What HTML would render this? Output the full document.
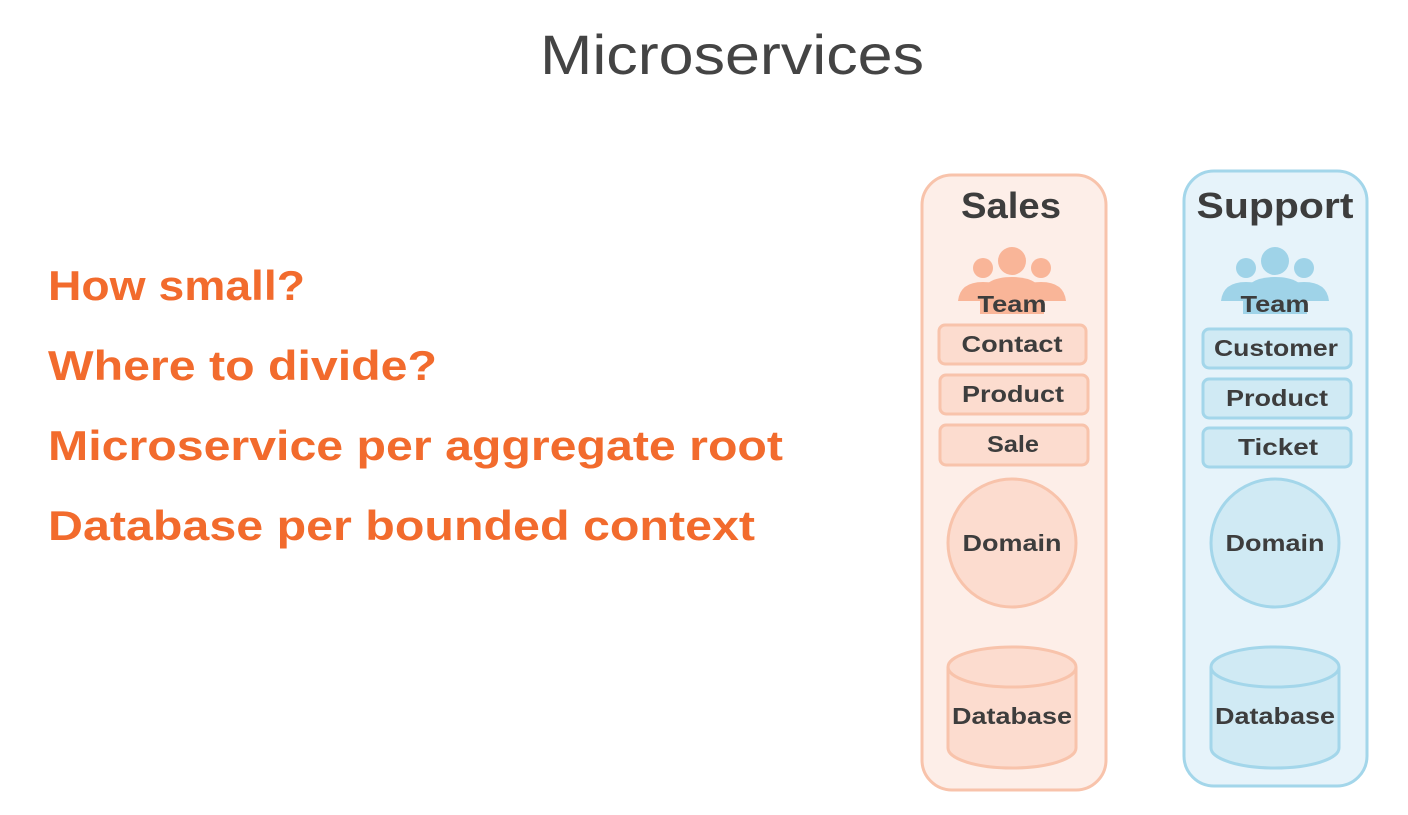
<!DOCTYPE html>
<html><head><meta charset="utf-8"><style>
html,body{margin:0;padding:0;background:#fff;}
svg{display:block}
text{font-family:"Liberation Sans",sans-serif;}
</style></head><body>
<svg width="1408" height="815" viewBox="0 0 1408 815" xmlns="http://www.w3.org/2000/svg">
<text x="732" y="74" text-anchor="middle" font-size="56" fill="#444" textLength="384" lengthAdjust="spacingAndGlyphs">Microservices</text>
<g font-weight="bold" font-size="42" fill="#f26b2d">
<text x="48" y="300" textLength="257" lengthAdjust="spacingAndGlyphs">How small?</text>
<text x="48" y="380" textLength="389" lengthAdjust="spacingAndGlyphs">Where to divide?</text>
<text x="48" y="460" textLength="735" lengthAdjust="spacingAndGlyphs">Microservice per aggregate root</text>
<text x="48" y="540" textLength="707" lengthAdjust="spacingAndGlyphs">Database per bounded context</text>
</g>
<!-- Sales -->
<rect x="922" y="175" width="184" height="615" rx="30" fill="#fdeee8" stroke="#f8c3ab" stroke-width="3"/>
<text x="1011" y="218" text-anchor="middle" font-size="36" font-weight="bold" fill="#3d3d3d" textLength="100" lengthAdjust="spacingAndGlyphs">Sales</text>
<g fill="#f9b598">
<circle cx="983" cy="268" r="10"/><circle cx="1041" cy="268" r="10"/>
<path d="M958 301 Q960 282 983 282 Q1006 282 1008 301Z"/><path d="M1016 301 Q1018 282 1041 282 Q1064 282 1066 301Z"/>
<circle cx="1012" cy="261" r="14"/>
<path d="M980 314 L980 296 Q984 277 1012 277 Q1040 277 1044 296 L1044 314Z"/>
</g>
<text x="1012" y="312" text-anchor="middle" font-size="23" font-weight="bold" fill="#3d3d3d" textLength="69" lengthAdjust="spacingAndGlyphs">Team</text>
<g fill="#fcdccf" stroke="#f8c3ab" stroke-width="3">
<rect x="939" y="325" width="147" height="39" rx="6"/>
<rect x="940" y="375" width="148" height="39" rx="6"/>
<rect x="940" y="425" width="148" height="40" rx="6"/>
<circle cx="1012" cy="543" r="64"/>
<path d="M948 667 L948 748 A64 20 0 0 0 1076 748 L1076 667"/>
<ellipse cx="1012" cy="667" rx="64" ry="20"/>
</g>
<g font-size="23" font-weight="bold" fill="#3d3d3d" text-anchor="middle" lengthAdjust="spacingAndGlyphs">
<text x="1012" y="352" textLength="101" lengthAdjust="spacingAndGlyphs">Contact</text>
<text x="1013" y="402" textLength="102" lengthAdjust="spacingAndGlyphs">Product</text>
<text x="1013" y="452" textLength="52" lengthAdjust="spacingAndGlyphs">Sale</text>
<text x="1012" y="551" textLength="99" lengthAdjust="spacingAndGlyphs">Domain</text>
<text x="1012" y="724" textLength="120" lengthAdjust="spacingAndGlyphs">Database</text>
</g>
<!-- Support -->
<rect x="1184" y="171" width="183" height="615" rx="30" fill="#e6f3fa" stroke="#a3d6ea" stroke-width="3"/>
<text x="1275" y="218" text-anchor="middle" font-size="36" font-weight="bold" fill="#3d3d3d" textLength="157" lengthAdjust="spacingAndGlyphs">Support</text>
<g fill="#9fd3e8">
<circle cx="1246" cy="268" r="10"/><circle cx="1304" cy="268" r="10"/>
<path d="M1221 301 Q1223 282 1246 282 Q1269 282 1271 301Z"/><path d="M1279 301 Q1281 282 1304 282 Q1327 282 1329 301Z"/>
<circle cx="1275" cy="261" r="14"/>
<path d="M1243 314 L1243 296 Q1247 277 1275 277 Q1303 277 1307 296 L1307 314Z"/>
</g>
<text x="1275" y="312" text-anchor="middle" font-size="23" font-weight="bold" fill="#3d3d3d" textLength="69" lengthAdjust="spacingAndGlyphs">Team</text>
<g fill="#d0eaf4" stroke="#a3d6ea" stroke-width="3">
<rect x="1203" y="329" width="148" height="39" rx="6"/>
<rect x="1203" y="379" width="148" height="39" rx="6"/>
<rect x="1203" y="428" width="148" height="39" rx="6"/>
<circle cx="1275" cy="543" r="64"/>
<path d="M1211 667 L1211 748 A64 20 0 0 0 1339 748 L1339 667"/>
<ellipse cx="1275" cy="667" rx="64" ry="20"/>
</g>
<g font-size="23" font-weight="bold" fill="#3d3d3d" text-anchor="middle">
<text x="1276" y="356" textLength="124" lengthAdjust="spacingAndGlyphs">Customer</text>
<text x="1277" y="406" textLength="102" lengthAdjust="spacingAndGlyphs">Product</text>
<text x="1278" y="455" textLength="80" lengthAdjust="spacingAndGlyphs">Ticket</text>
<text x="1275" y="551" textLength="99" lengthAdjust="spacingAndGlyphs">Domain</text>
<text x="1275" y="724" textLength="120" lengthAdjust="spacingAndGlyphs">Database</text>
</g>
</svg>
</body></html>
